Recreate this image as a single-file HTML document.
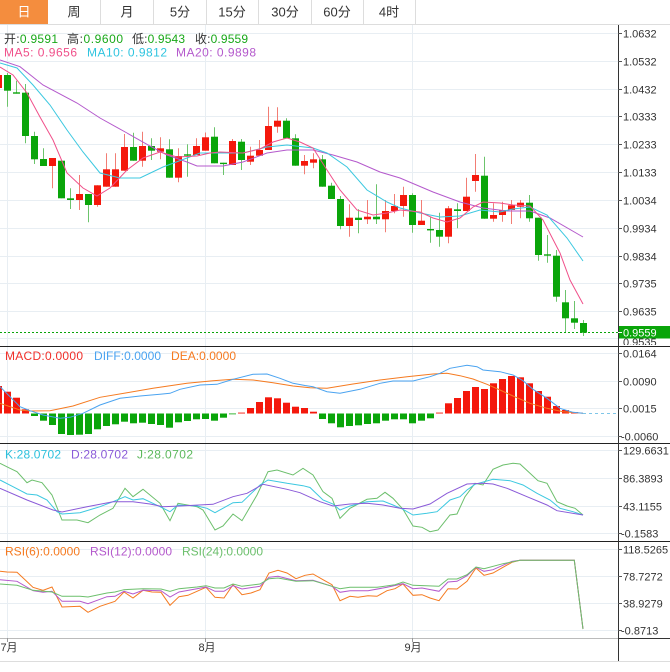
<!DOCTYPE html>
<html><head><meta charset="utf-8"><style>
html,body{margin:0;padding:0;background:#fff;}
svg{display:block;font-family:"Liberation Sans","Noto Sans CJK SC",sans-serif;}
</style></head><body>
<svg width="670" height="672" viewBox="0 0 670 672" xmlns="http://www.w3.org/2000/svg">
<defs>
<clipPath id="cm"><rect x="0" y="24" width="618" height="322"/></clipPath>
<clipPath id="cx"><rect x="0" y="347" width="618" height="96"/></clipPath>
<clipPath id="ck"><rect x="0" y="444" width="618" height="97"/></clipPath>
<clipPath id="cr"><rect x="0" y="542" width="618" height="96"/></clipPath>
<clipPath id="cl"><rect x="618" y="24" width="52" height="321"/></clipPath>
</defs>
<rect width="670" height="672" fill="#fff"/>
<!-- tabs -->
<rect x="0" y="0" width="48" height="24" fill="#f48d3e"/>
<g stroke="#dddddd" stroke-width="1">
<line x1="100.5" y1="0" x2="100.5" y2="24"/><line x1="153.5" y1="0" x2="153.5" y2="24"/>
<line x1="206.5" y1="0" x2="206.5" y2="24"/><line x1="258.5" y1="0" x2="258.5" y2="24"/>
<line x1="311.5" y1="0" x2="311.5" y2="24"/><line x1="363.5" y1="0" x2="363.5" y2="24"/>
<line x1="415.5" y1="0" x2="415.5" y2="24"/>
<line x1="0" y1="24.5" x2="670" y2="24.5"/>
</g>
<g font-size="13" text-anchor="middle" fill="#333">
<text x="24" y="16.5" fill="#fff">日</text>
<text x="74" y="16.5">周</text><text x="127" y="16.5">月</text>
<text x="180" y="16.5">5分</text><text x="232" y="16.5">15分</text>
<text x="285" y="16.5">30分</text><text x="337" y="16.5">60分</text>
<text x="389" y="16.5">4时</text>
</g>
<!-- grid -->
<g stroke="#e8eef3" stroke-width="1">
<line x1="0" y1="33.5" x2="618" y2="33.5"/><line x1="0" y1="61.5" x2="618" y2="61.5"/>
<line x1="0" y1="89.5" x2="618" y2="89.5"/><line x1="0" y1="116.5" x2="618" y2="116.5"/>
<line x1="0" y1="144.5" x2="618" y2="144.5"/><line x1="0" y1="172.5" x2="618" y2="172.5"/>
<line x1="0" y1="200.5" x2="618" y2="200.5"/><line x1="0" y1="228.5" x2="618" y2="228.5"/>
<line x1="0" y1="256.5" x2="618" y2="256.5"/><line x1="0" y1="283.5" x2="618" y2="283.5"/>
<line x1="0" y1="311.5" x2="618" y2="311.5"/><line x1="0" y1="338.5" x2="618" y2="338.5"/>
<line x1="0" y1="353.5" x2="618" y2="353.5"/><line x1="0" y1="381.5" x2="618" y2="381.5"/>
<line x1="0" y1="408.5" x2="618" y2="408.5"/><line x1="0" y1="436.5" x2="618" y2="436.5"/>
<line x1="0" y1="450.5" x2="618" y2="450.5"/><line x1="0" y1="478.5" x2="618" y2="478.5"/>
<line x1="0" y1="506.5" x2="618" y2="506.5"/><line x1="0" y1="533.5" x2="618" y2="533.5"/>
<line x1="0" y1="549.5" x2="618" y2="549.5"/><line x1="0" y1="576.5" x2="618" y2="576.5"/>
<line x1="0" y1="603.5" x2="618" y2="603.5"/><line x1="0" y1="630.5" x2="618" y2="630.5"/>
<line x1="7.5" y1="25" x2="7.5" y2="638"/><line x1="205.5" y1="25" x2="205.5" y2="638"/>
<line x1="412.5" y1="25" x2="412.5" y2="638"/>
</g>
<!-- legends main -->
<g font-size="12">
<text x="4" y="43" textLength="54"><tspan fill="#333">开:</tspan><tspan fill="#18a818">0.9591</tspan></text>
<text x="67" y="43" textLength="56"><tspan fill="#333">高:</tspan><tspan fill="#18a818">0.9600</tspan></text>
<text x="132" y="43" textLength="53"><tspan fill="#333">低:</tspan><tspan fill="#18a818">0.9543</tspan></text>
<text x="195" y="43" textLength="53"><tspan fill="#333">收:</tspan><tspan fill="#18a818">0.9559</tspan></text>
<text x="4" y="56.5" fill="#f0508a" textLength="73">MA5: 0.9656</text>
<text x="87" y="56.5" fill="#2ec4df" textLength="80">MA10: 0.9812</text>
<text x="176" y="56.5" fill="#b459cc" textLength="80">MA20: 0.9898</text>
</g>
<!-- candles -->
<g clip-path="url(#cm)">
<path fill="none" stroke="#f27d74" stroke-width="1" d="M-1.5 72V90M52.5 158V188.3M79.5 175V210M97.5 185.3V206.7M106.5 153.3V186.7M115.5 153.3V186.7M124.5 134V170.7M142.5 131.7V166.7M160.5 137.3V159.3M178.5 148.3V182.3M196.5 138.3V155M205.5 132.5V150.7M232.5 139V165M250.5 146.7V165M259.5 140V155.7M268.5 106.7V150M277.5 107.3V132.7M304.5 155V174.3M313.5 153.3V168.3M349.5 204.3V236.7M367.5 200V224M385.5 200V232.3M394.5 194V213.3M403.5 186.7V216.7M421.5 200V225M448.5 206V243.3M466.5 177.7V211M475.5 154V191.7M493.5 203.3V221.7M502.5 201.7V221.7M511.5 200V224M520.5 200V218.3"/>
<path fill="none" stroke="#6cc46c" stroke-width="1" d="M7.5 73V106.7M16.5 80.7V93.6M25.5 84V143.3M34.5 131.7V164M43.5 148.3V166M61.5 160V198.3M70.5 188.3V209M88.5 194V222.3M133.5 132.7V160.7M151.5 138.3V160M169.5 139.3V177.7M187.5 144.3V176.7M214.5 127.3V163.3M223.5 162.7V175M241.5 139V170M286.5 118.3V138.3M295.5 134.3V165.7M322.5 155V186.7M331.5 182.7V199M340.5 196V229.3M358.5 209.3V233.3M376.5 184.3V224M412.5 193.3V232.7M430.5 217.3V242.7M439.5 212.7V246.7M457.5 203.3V228.3M484.5 156.7V218.7M529.5 195V221.7M538.5 217.7V260.7M547.5 235V262.7M556.5 250V301.7M565.5 290V332.7M574.5 301V329M583.5 320V336"/>
<g fill="#f4180c">
<rect x="-5" y="75" width="7" height="13"/>
<rect x="49" y="158" width="7" height="8"/>
<rect x="76" y="194" width="7" height="6"/>
<rect x="94" y="185.3" width="7" height="19.7"/>
<rect x="103" y="169.3" width="7" height="17.4"/>
<rect x="112" y="169.3" width="7" height="17.4"/>
<rect x="121" y="147" width="7" height="23.7"/>
<rect x="139" y="146" width="7" height="14.7"/>
<rect x="157" y="148.3" width="7" height="3.4"/>
<rect x="175" y="156" width="7" height="21.7"/>
<rect x="193" y="146" width="7" height="9"/>
<rect x="202" y="137.3" width="7" height="13.4"/>
<rect x="229" y="141" width="7" height="24"/>
<rect x="247" y="155.7" width="7" height="6"/>
<rect x="256" y="150" width="7" height="5.7"/>
<rect x="265" y="126" width="7" height="24"/>
<rect x="274" y="120.7" width="7" height="6"/>
<rect x="301" y="161" width="7" height="4.7"/>
<rect x="310" y="159.3" width="7" height="3.4"/>
<rect x="346" y="217.7" width="7" height="8.3"/>
<rect x="364" y="216.7" width="7" height="2.6"/>
<rect x="382" y="211" width="7" height="8.3"/>
<rect x="391" y="206" width="7" height="5"/>
<rect x="400" y="195" width="7" height="11"/>
<rect x="418" y="220.7" width="7" height="4.3"/>
<rect x="445" y="208.3" width="7" height="28.4"/>
<rect x="463" y="196.7" width="7" height="14.3"/>
<rect x="472" y="175" width="7" height="6"/>
<rect x="490" y="215" width="7" height="3.7"/>
<rect x="499" y="210" width="7" height="5"/>
<rect x="508" y="205.3" width="7" height="4.7"/>
<rect x="517" y="202.7" width="7" height="4"/>
</g>
<g fill="#0aa50a">
<rect x="4" y="75" width="7" height="15.7"/>
<rect x="13" y="92.3" width="7" height="1.4"/>
<rect x="22" y="92.7" width="7" height="43.3"/>
<rect x="31" y="136" width="7" height="23.3"/>
<rect x="40" y="159" width="7" height="7"/>
<rect x="58" y="160.7" width="7" height="37.6"/>
<rect x="67" y="198.3" width="7" height="1.7"/>
<rect x="85" y="194" width="7" height="11"/>
<rect x="130" y="147" width="7" height="13.7"/>
<rect x="148" y="146" width="7" height="4.7"/>
<rect x="166" y="149.3" width="7" height="28.4"/>
<rect x="184" y="154.3" width="7" height="1.4"/>
<rect x="211" y="136.7" width="7" height="26.6"/>
<rect x="220" y="162.7" width="7" height="1.4"/>
<rect x="238" y="141.7" width="7" height="18.3"/>
<rect x="283" y="120.7" width="7" height="17.6"/>
<rect x="292" y="138.3" width="7" height="27.4"/>
<rect x="319" y="159.3" width="7" height="27.4"/>
<rect x="328" y="185.7" width="7" height="13.3"/>
<rect x="337" y="199" width="7" height="27"/>
<rect x="355" y="217.7" width="7" height="2.3"/>
<rect x="373" y="216.7" width="7" height="2.6"/>
<rect x="409" y="195" width="7" height="30"/>
<rect x="427" y="229" width="7" height="1.4"/>
<rect x="436" y="230" width="7" height="6.7"/>
<rect x="454" y="209.3" width="7" height="1.7"/>
<rect x="481" y="175.7" width="7" height="43"/>
<rect x="526" y="202.7" width="7" height="15.6"/>
<rect x="535" y="217.7" width="7" height="37.3"/>
<rect x="544" y="254.3" width="7" height="1.4"/>
<rect x="553" y="255.7" width="7" height="41"/>
<rect x="562" y="302.3" width="7" height="16"/>
<rect x="571" y="318.3" width="7" height="4.4"/>
<rect x="580" y="323" width="7" height="9.7"/>
</g>
<!-- MAs -->
<polyline fill="none" stroke="#b459cc" stroke-width="1" points="0,60 20,66.7 43,85 77,103 100,118 127,133 150,146 167,155 187,162 197,166 210,166 223,166 243,162 267,153 287,150 313,150 333,155 357,162 380,172 400,178 433,192 460,202 483,208 507,211 530,211 550,218 583,237"/>
<polyline fill="none" stroke="#3cc8e0" stroke-width="1" points="0,63 17,68 33,85 50,105 67,130 83,152 100,173 120,178 140,178 163,167 187,158 200,153 220,153 243,153 267,147 287,145 313,148 327,153 347,167 367,190 387,202 400,208 420,213 440,217 460,216 480,210 500,212 513,209 530,207 547,215 567,238 583,261"/>
<polyline fill="none" stroke="#f0508a" stroke-width="1" points="0,67 13,75 27,93 40,117 53,140 67,173 83,188 97,196 110,188 127,170 143,158 160,152 177,157 197,156 210,153 220,152 243,153 260,149 273,142 287,138 300,142 313,148 327,170 340,190 357,210 373,215 387,213 400,210 420,212 433,218 447,222 460,218 473,207 483,202 500,203 513,205 530,206 543,220 560,253 570,280 583,304"/>
<line x1="0" y1="332.5" x2="618" y2="332.5" stroke="#0aa50a" stroke-width="1" stroke-dasharray="2,2"/>
</g>
<!-- MACD -->
<g font-size="12">
<text x="5" y="360" fill="#f0302a" textLength="78">MACD:0.0000</text>
<text x="94" y="360" fill="#4aa3f0" textLength="67">DIFF:0.0000</text>
<text x="171" y="360" fill="#f57a20" textLength="65">DEA:0.0000</text>
</g>
<g clip-path="url(#cx)">
<g fill="#f4180c">
<rect x="-5" y="386" width="7" height="27.5"/>
<rect x="4" y="391.7" width="7" height="21.8"/>
<rect x="13" y="397.7" width="7" height="15.8"/>
<rect x="22" y="409.3" width="7" height="4.2"/>
<rect x="238" y="412.6" width="7" height="0.9"/>
<rect x="247" y="408" width="7" height="5.5"/>
<rect x="256" y="402" width="7" height="11.5"/>
<rect x="265" y="397.3" width="7" height="16.2"/>
<rect x="274" y="398.3" width="7" height="15.2"/>
<rect x="283" y="402.7" width="7" height="10.8"/>
<rect x="292" y="406.7" width="7" height="6.8"/>
<rect x="301" y="408" width="7" height="5.5"/>
<rect x="310" y="411.7" width="7" height="1.8"/>
<rect x="436" y="412.6" width="7" height="0.9"/>
<rect x="445" y="403.3" width="7" height="10.2"/>
<rect x="454" y="398" width="7" height="15.5"/>
<rect x="463" y="391" width="7" height="22.5"/>
<rect x="472" y="387" width="7" height="26.5"/>
<rect x="481" y="389" width="7" height="24.5"/>
<rect x="490" y="383.3" width="7" height="30.2"/>
<rect x="499" y="379" width="7" height="34.5"/>
<rect x="508" y="376" width="7" height="37.5"/>
<rect x="517" y="377.3" width="7" height="36.2"/>
<rect x="526" y="383.3" width="7" height="30.2"/>
<rect x="535" y="391" width="7" height="22.5"/>
<rect x="544" y="396.7" width="7" height="16.8"/>
<rect x="553" y="406" width="7" height="7.5"/>
<rect x="562" y="410" width="7" height="3.5"/>
<rect x="571" y="412" width="7" height="1.5"/>
</g>
<g fill="#0aa50a">
<rect x="31" y="413.5" width="7" height="2.5"/>
<rect x="40" y="413.5" width="7" height="7.2"/>
<rect x="49" y="413.5" width="7" height="11.5"/>
<rect x="58" y="413.5" width="7" height="20.5"/>
<rect x="67" y="413.5" width="7" height="21.5"/>
<rect x="76" y="413.5" width="7" height="21.2"/>
<rect x="85" y="413.5" width="7" height="20.5"/>
<rect x="94" y="413.5" width="7" height="15.8"/>
<rect x="103" y="413.5" width="7" height="12.5"/>
<rect x="112" y="413.5" width="7" height="10.8"/>
<rect x="121" y="413.5" width="7" height="8.2"/>
<rect x="130" y="413.5" width="7" height="9.8"/>
<rect x="139" y="413.5" width="7" height="9.2"/>
<rect x="148" y="413.5" width="7" height="10.5"/>
<rect x="157" y="413.5" width="7" height="11.5"/>
<rect x="166" y="413.5" width="7" height="14.2"/>
<rect x="175" y="413.5" width="7" height="8.8"/>
<rect x="184" y="413.5" width="7" height="7.5"/>
<rect x="193" y="413.5" width="7" height="5.8"/>
<rect x="202" y="413.5" width="7" height="5.5"/>
<rect x="211" y="413.5" width="7" height="7.2"/>
<rect x="220" y="413.5" width="7" height="4.2"/>
<rect x="229" y="413.5" width="7" height="0.8"/>
<rect x="319" y="413.5" width="7" height="5.5"/>
<rect x="328" y="413.5" width="7" height="9.8"/>
<rect x="337" y="413.5" width="7" height="13.8"/>
<rect x="346" y="413.5" width="7" height="12.5"/>
<rect x="355" y="413.5" width="7" height="11.8"/>
<rect x="364" y="413.5" width="7" height="10.5"/>
<rect x="373" y="413.5" width="7" height="9.8"/>
<rect x="382" y="413.5" width="7" height="7.2"/>
<rect x="391" y="413.5" width="7" height="5.8"/>
<rect x="400" y="413.5" width="7" height="5.8"/>
<rect x="409" y="413.5" width="7" height="9.8"/>
<rect x="418" y="413.5" width="7" height="7.2"/>
<rect x="427" y="413.5" width="7" height="4.8"/>
</g>
<polyline fill="none" stroke="#f57a20" stroke-width="1" points="0,403.3 20,410 30,411 50,410.7 73,406 100,397.3 127,392.7 153,388.3 187,383.3 213,380.7 233,379.3 253,380 273,382.7 293,386 310,387.7 327,388.3 353,384 380,380 407,376.7 433,374 447,373.3 460,375.7 473,379 487,384.3 500,390 513,396 530,403.3 547,408.3 563,411.7 583,413.3"/>
<polyline fill="none" stroke="#4aa3f0" stroke-width="1" points="0,386.7 10,396.7 20,406.7 30,410.7 43,415 60,418.3 70,417.3 83,413.3 100,405 120,398.3 140,396 160,394.3 170,393.3 180,389.3 200,385 217,384.3 233,379.3 253,374.3 267,374 280,378.3 293,383.3 305,385.5 313,386.7 327,391.7 340,393.3 360,389.3 380,383.3 393,381 413,381 430,376.7 440,373.3 450,368.3 467,365.3 477,366.7 483,370 500,371.7 513,375 523,380.7 533,389.3 547,398.3 560,408.3 573,412.3 583,413.3"/>
<line x1="583" y1="413.5" x2="618" y2="413.5" stroke="#7fc6e8" stroke-width="1" stroke-dasharray="3,3"/>
</g>
<!-- KDJ -->
<g font-size="12">
<text x="5" y="458.5" fill="#2cc0dc" textLength="56">K:28.0702</text>
<text x="71" y="458.5" fill="#8a5ad8" textLength="57">D:28.0702</text>
<text x="137" y="458.5" fill="#5cb85c" textLength="56">J:28.0702</text>
</g>
<g clip-path="url(#ck)" fill="none" stroke-width="1">
<polyline stroke="#6cbf6c" points="0,463.3 10,468.3 17,471.7 27,482.7 32,480 42,482.7 52,495 62,520 77,520 88,522.7 100,515 113,508.3 125,488.3 133,496.7 143,489.3 160,503.3 170,520.7 178,503.3 197,506.7 203,510 215,530 223,526 233,514 242,520.7 257,495 268,471.7 277,470 293,475 303,468.3 313,475 323,491.7 332,498.3 340,518.3 350,508.3 367,499.3 377,498.3 385,492.3 393,498.3 403,509.3 413,526 422,527.3 430,531.7 438,530 450,515 457,514 465,496.7 475,483.3 483,485 493,469.3 503,465 513,463.3 520,464 530,473.3 538,480.7 547,483.3 557,501.7 567,506 575,508.3 583,515"/>
<polyline stroke="#3cc8e0" points="0,480 13,486.7 27,494 37,495 47,500 57,511.7 62,514 80,512.7 100,506.7 113,501.7 125,496.7 133,500 143,498.7 160,506.7 170,511.7 178,505 197,506 207,508.3 215,512.7 233,502.7 242,502.3 260,485 268,480 287,483.3 303,485.7 310,487.5 323,500 333,504 340,510 350,506 367,501.7 383,501 393,505 403,509.3 413,515 427,513.3 437,511.7 450,500 460,496.7 467,490 475,484.3 493,479.3 510,480.7 523,485 537,493.3 550,500 560,508.3 573,511.7 583,515"/>
<polyline stroke="#8a5ad8" points="0,488.3 27,500 53,510 62,512 87,506.7 113,501.7 133,501.7 150,504 163,506.7 180,506 213,504.3 233,496.7 247,493.3 263,484.3 287,489.3 300,492.7 320,501.7 333,506 350,504 367,503.3 383,505 400,508.3 413,509 430,504 447,493.3 467,484 483,483.3 493,484 507,488.3 527,496.7 547,505 557,510.7 583,515"/>
</g>
<!-- RSI -->
<g font-size="12">
<text x="5" y="555.5" fill="#f57a20" textLength="75">RSI(6):0.0000</text>
<text x="90" y="555.5" fill="#b459cc" textLength="82">RSI(12):0.0000</text>
<text x="182" y="555.5" fill="#6cbf6c" textLength="81">RSI(24):0.0000</text>
</g>
<g clip-path="url(#cr)" fill="none" stroke-width="1">
<polyline stroke="#f57a20" points="0,571.3 7,572 17,572.3 25,579.7 33,587.3 43,590.3 52,587 62,607 80,606.3 88,612.3 100,606.3 115,601.3 124,592 133,598 143,590.3 152,592 161,592.3 170,605.3 179,596.7 188,595.3 197,591.3 206,587.3 215,597.3 224,598 233,584.7 242,594.7 251,593 260,589.7 269,573 278,570.3 287,573 296,578.7 305,575.3 313,574 323,579.7 332,584.7 340,600.7 350,596.3 358,597.3 368,595.7 377,596.3 387,590.7 395,588.7 403,584 413,595.3 422,594.7 430,598 439,600.7 448,588.7 457,589 467,581.3 476,568 484,575.3 493,573 503,567.3 512,562.3 520,560.3 574.3,560.3 583,629"/>
<polyline stroke="#b459cc" points="0,579.7 17,581.3 33,590.7 43,592.3 52,591.3 62,601.3 80,601.3 88,603.7 107,596.7 115,596.3 124,591.3 133,594 143,590.3 161,590.7 170,597 179,592 197,588.7 206,587 215,591.3 224,591.3 233,585.7 242,589 260,586.3 269,577.3 278,576.3 296,580.7 313,580.3 332,586.3 340,592.3 350,590.7 368,590.7 387,587.3 403,583.7 413,588.7 422,588 439,591.3 448,582 457,581.3 467,575.7 476,567.3 484,571.3 493,569.7 512,561.3 520,560.3 574.3,560.3 583,629"/>
<polyline stroke="#6cbf6c" points="0,584 17,585.3 33,590.3 52,592 62,596.3 80,596.3 88,597 107,593 115,592 124,589.7 143,588.7 161,589 170,591.3 179,588.7 197,587 206,585.7 215,588 224,588 233,584 242,586.3 260,584 269,578.7 278,578 296,581.3 313,580.7 332,586.3 340,588.7 350,587.3 377,587.3 395,584.7 403,582 413,585.3 439,586.3 448,579 457,579 467,574.7 476,567 484,568.7 503,563.7 520,560.3 574.3,560.3 583,629"/>
</g>
<!-- frame lines -->
<g stroke-width="1">
<line x1="0" y1="346.5" x2="670" y2="346.5" stroke="#222"/>
<line x1="0" y1="443.5" x2="670" y2="443.5" stroke="#222"/>
<line x1="0" y1="541.5" x2="670" y2="541.5" stroke="#222"/>
<line x1="0" y1="638.5" x2="618" y2="638.5" stroke="#bbbbbb"/>
<line x1="618" y1="638.5" x2="670" y2="638.5" stroke="#333"/>
<line x1="0" y1="661.5" x2="670" y2="661.5" stroke="#dddddd"/>
<line x1="618.5" y1="25" x2="618.5" y2="661" stroke="#333"/>
<line x1="7.5" y1="638" x2="7.5" y2="642" stroke="#999"/>
<line x1="205.5" y1="638" x2="205.5" y2="642" stroke="#999"/>
<line x1="412.5" y1="638" x2="412.5" y2="642" stroke="#999"/>
</g>
<!-- right axis ticks -->
<path stroke="#555" stroke-width="1" d="M618 33.5h4M618 61.5h4M618 89.5h4M618 116.5h4M618 144.5h4M618 172.5h4M618 200.5h4M618 228.5h4M618 256.5h4M618 283.5h4M618 311.5h4M618 353.5h4M618 381.5h4M618 408.5h4M618 436.5h4M618 450.5h4M618 478.5h4M618 506.5h4M618 533.5h4M618 549.5h4M618 576.5h4M618 603.5h4M618 630.5h4"/>
<g font-size="11" fill="#333">
<text x="623" y="37.5">1.0632</text><text x="623" y="65.5">1.0532</text>
<text x="623" y="93.5">1.0432</text><text x="623" y="120.5">1.0333</text>
<text x="623" y="148.5">1.0233</text><text x="623" y="176.5">1.0133</text>
<text x="623" y="204.5">1.0034</text><text x="623" y="232.5">0.9934</text>
<text x="623" y="260.5">0.9834</text><text x="623" y="287.5">0.9735</text>
<text x="623" y="315.5">0.9635</text>
<text x="623" y="346" clip-path="url(#cl)">0.9535</text>
<text x="623" y="357.5">0.0164</text><text x="623" y="385.5">0.0090</text>
<text x="623" y="412.5">0.0015</text><text x="621" y="440.5">-0.0060</text>
<text x="623" y="454.5">129.6631</text><text x="623" y="482.5">86.3893</text>
<text x="623" y="510.5">43.1155</text><text x="621" y="537.5">-0.1583</text>
<text x="623" y="553.5">118.5265</text><text x="623" y="580.5">78.7272</text>
<text x="623" y="607.5">38.9279</text><text x="621" y="634.5">-0.8713</text>
</g>
<rect x="619" y="326" width="51" height="12.5" fill="#0aa50a"/>
<line x1="618" y1="332.5" x2="622" y2="332.5" stroke="#fff" stroke-width="1"/>
<text x="623" y="336.5" font-size="11" fill="#fff">0.9559</text>
<!-- date labels -->
<g font-size="11" fill="#333" text-anchor="middle">
<text x="9" y="651">7月</text>
<text x="207" y="651">8月</text>
<text x="413" y="651">9月</text>
</g>
</svg>
</body></html>
